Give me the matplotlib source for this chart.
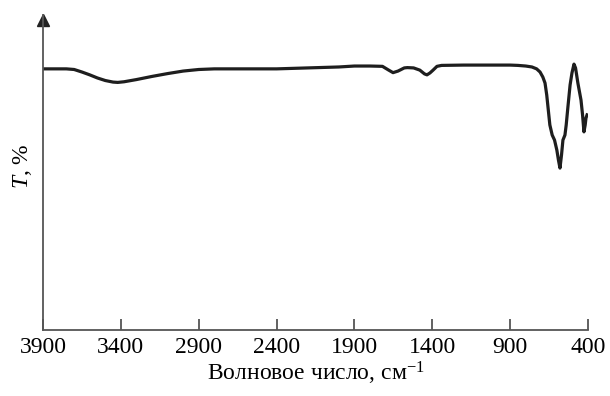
import numpy as np
import matplotlib
matplotlib.use('Agg')
import matplotlib.pyplot as plt

plt.rcParams['font.family'] = ['Liberation Serif', 'DejaVu Serif']
plt.rcParams['mathtext.fontset'] = 'custom'
plt.rcParams['mathtext.rm'] = 'Liberation Serif'
plt.rcParams['mathtext.it'] = 'Liberation Serif:italic'

# IR spectrum (wavenumber, transmittance in arbitrary %)
wavenumber = [3900, 3750, 3700, 3650, 3600, 3550, 3500, 3450, 3420, 3380,
              3300, 3200, 3100, 3000, 2900, 2800, 2600, 2400, 2200, 2000,
              1900, 1800, 1720, 1680, 1652, 1620, 1580, 1560, 1520, 1480,
              1450, 1434, 1415, 1395, 1370, 1340, 1200, 1000, 900, 850,
              800, 760, 730, 708, 690, 676, 665, 657, 645, 630,
              615, 600, 590, 580, 570, 561, 548, 540, 529, 515,
              503, 490, 480, 465, 445, 435, 426, 418, 413, 406]
transmittance = [82.9, 82.9, 82.7, 81.9, 81.0, 80.0, 79.2, 78.7, 78.6, 78.8,
                 79.5, 80.5, 81.4, 82.2, 82.7, 82.9, 82.9, 82.9, 83.2, 83.5,
                 83.8, 83.8, 83.7, 82.5, 81.7, 82.2, 83.2, 83.3, 83.2, 82.5,
                 81.3, 81.0, 81.6, 82.5, 83.7, 84.0, 84.1, 84.1, 84.1, 84.0,
                 83.8, 83.5, 82.9, 81.9, 80.3, 78.4, 74.6, 70.8, 65.1, 61.9,
                 60.3, 57.1, 54.0, 51.4, 55.6, 60.3, 61.9, 65.1, 70.8, 77.8,
                 81.6, 84.4, 83.2, 78.4, 73.0, 68.3, 62.9, 65.1, 67.3, 68.3]
xticks = [3900, 3400, 2900, 2400, 1900, 1400, 900, 400]

fig = plt.figure(figsize=(6.1, 3.96), dpi=100)
ax = fig.add_axes([43 / 610, 1 - 330 / 396, 545 / 610, 315 / 396])

ax.plot(wavenumber, transmittance, color='#1e1e1e', lw=2.3, solid_joinstyle='round')

ax.set_xlim(3900, 400)
ax.set_ylim(0, 100)
ax.set_xticks(xticks)
ax.set_yticks([])
ax.tick_params(axis='x', direction='in', length=8, width=1.3, color='#555555',
               labelsize=17, pad=5)

for s in ['top', 'right']:
    ax.spines[s].set_visible(False)
for s in ['left', 'bottom']:
    ax.spines[s].set_color('#555555')
    ax.spines[s].set_linewidth(1.3)

# arrow on the y axis
ax.plot(0, 0.985, marker='^', ms=8, color='#222222', transform=ax.transAxes, clip_on=False)

ax.set_xlabel('Волновое число, см$^{-1}$', fontsize=17, labelpad=1)
ax.set_ylabel('$T$, %', fontsize=17)
ax.yaxis.set_label_coords(-0.016, 0.52)

fig.savefig('out.png', dpi=100)
